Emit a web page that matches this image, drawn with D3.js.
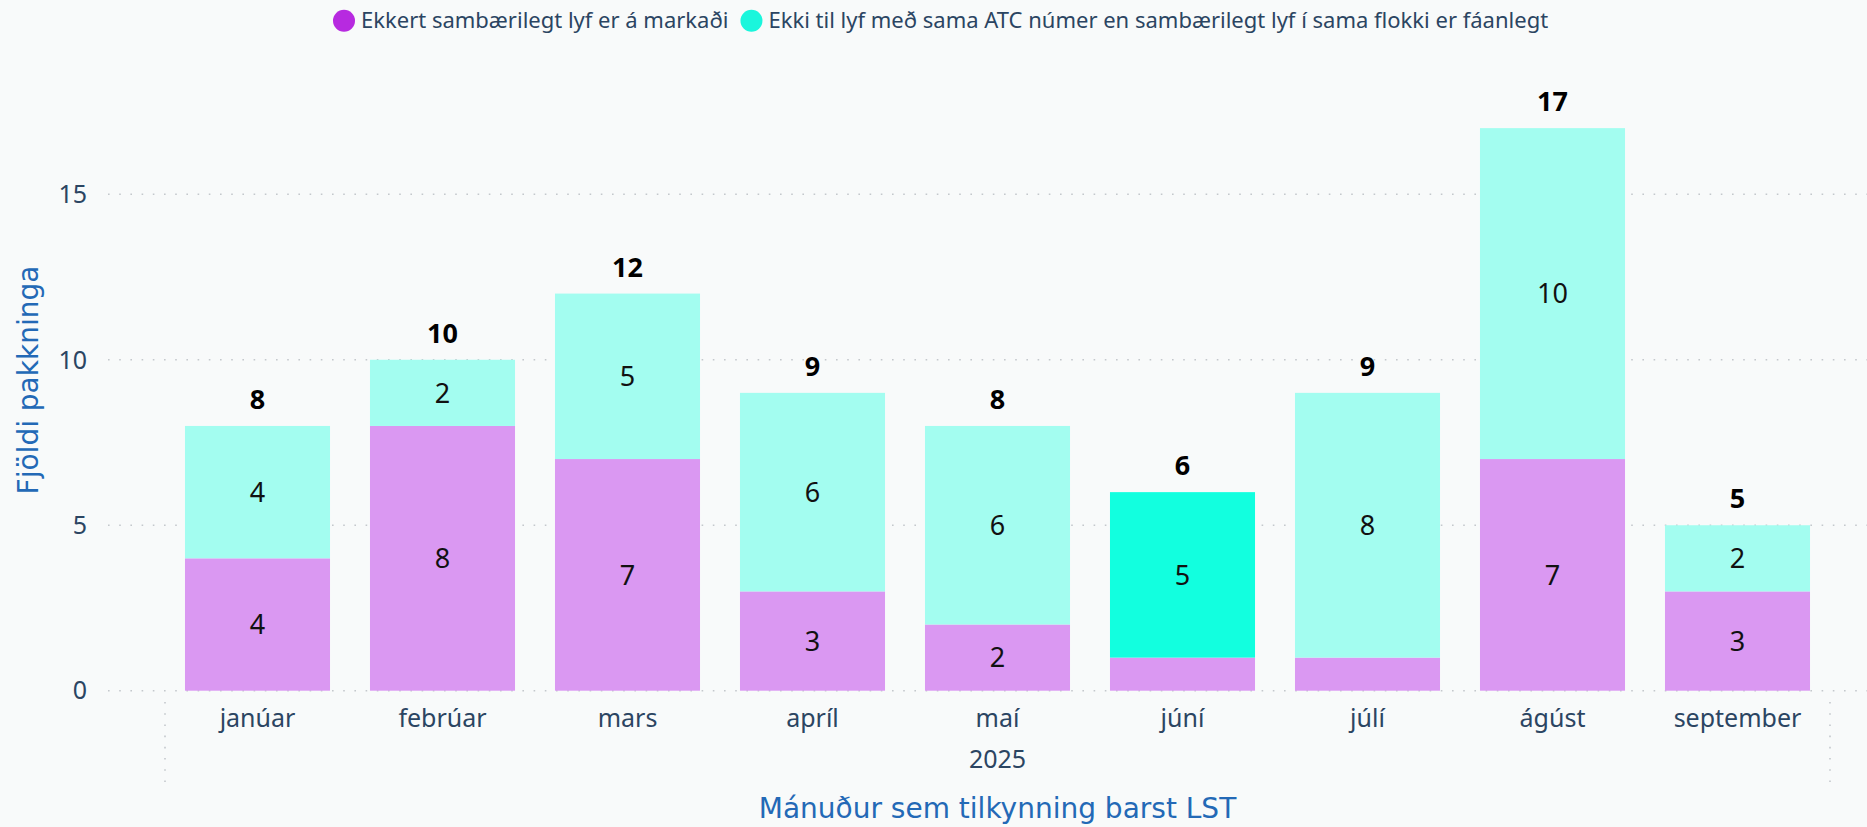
<!DOCTYPE html>
<html>
<head>
<meta charset="utf-8">
<script src="https://cdn.jsdelivr.net/npm/d3@7"></script>
<style>
  html, body { margin: 0; padding: 0; background: #f8fafa; }
  svg { display: block; }
  .tickTxt { font-family: "Noto Sans", sans-serif; font-size: 25px; fill: #2b4562; }
  .axisTitle { font-family: "DejaVu Sans", sans-serif; font-size: 28px; fill: #2369b6; }
  .legendTxt { font-family: "Noto Sans", sans-serif; font-size: 22px; fill: #2b4562; }
  .totalTxt { font-family: "Noto Sans", sans-serif; font-size: 27px; font-weight: bold; fill: #000; }
  .innerTxt { font-family: "Noto Sans", sans-serif; font-size: 27px; fill: #111; }
</style>
</head>
<body>
<div id="chart"></div>
<script>
var months = ["janúar", "febrúar", "mars", "apríl", "maí", "júní", "júlí", "ágúst", "september"];
var ekkertSambaerilegt = [4, 8, 7, 3, 2, 1, 1, 7, 3];
var ekkiTilAtc = [4, 2, 5, 6, 6, 5, 8, 10, 2];
var seriesNames = ["Ekkert sambærilegt lyf er á markaði", "Ekki til lyf með sama ATC númer en sambærilegt lyf í sama flokki er fáanlegt"];
var yTicks = [0, 5, 10, 15];
var yearLabel = "2025";
var highlightMonth = "júní";

(function () {
  'use strict'
  drawStackChart("chart");
})()

function drawStackChart(divIdStr){
  var width = 1867, height = 827;
  var legendColors = ["#b72ae0", "#1af6dc"];
  var fadeColors = ["#da98f2", "#a3fdf0"];
  var hiColors = ["#da98f2", "#12ffdf"];

  var rows = months.map(function(m, i){
    return { month: m, a: ekkertSambaerilegt[i], b: ekkiTilAtc[i] };
  });
  var stack = d3.stack().keys(["a", "b"])(rows);

  var x = d3.scaleBand().domain(months).range([165, 1830]).paddingInner(0.216).paddingOuter(0.108);
  var y = d3.scaleLinear().domain([0, 15]).range([690.7, 194.3]);

  var svg = d3.select("#" + divIdStr).append("svg")
    .attr("width", width)
    .attr("height", height);

  // gridlines
  svg.append("g").selectAll("line")
    .data(yTicks)
    .enter().append("line")
    .attr("x1", 108).attr("x2", width)
    .attr("y1", function(d){ return y(d); })
    .attr("y2", function(d){ return y(d); })
    .attr("stroke", "#c4c8cc")
    .attr("stroke-width", 1.6)
    .attr("stroke-dasharray", "1.6,9.6");

  // y tick labels
  svg.append("g").selectAll("text")
    .data(yTicks)
    .enter().append("text")
    .attr("class", "tickTxt")
    .attr("x", 87)
    .attr("y", function(d){ return y(d); })
    .attr("dy", "0.35em")
    .attr("text-anchor", "end")
    .text(function(d){ return d; });

  // bars
  stack.forEach(function(layer, si){
    svg.append("g").selectAll("rect")
      .data(layer)
      .enter().append("rect")
      .attr("x", function(d){ return x(d.data.month); })
      .attr("width", x.bandwidth())
      .attr("y", function(d){ return y(d[1]); })
      .attr("height", function(d){ return y(d[0]) - y(d[1]); })
      .attr("fill", function(d){ return d.data.month == highlightMonth ? hiColors[si] : fadeColors[si]; });

    svg.append("g").selectAll("text")
      .data(layer.filter(function(d){ return (d[1] - d[0]) > 1; }))
      .enter().append("text")
      .attr("class", "innerTxt")
      .attr("x", function(d){ return x(d.data.month) + x.bandwidth() / 2; })
      .attr("y", function(d){ return (y(d[0]) + y(d[1])) / 2; })
      .attr("dy", "0.36em")
      .attr("text-anchor", "middle")
      .text(function(d){ return d[1] - d[0]; });
  });

  // totals
  svg.append("g").selectAll("text")
    .data(rows)
    .enter().append("text")
    .attr("class", "totalTxt")
    .attr("x", function(d){ return x(d.month) + x.bandwidth() / 2; })
    .attr("y", function(d){ return y(d.a + d.b) - 17; })
    .attr("text-anchor", "middle")
    .text(function(d){ return d.a + d.b; });

  // x axis
  var xAxis = svg.append("g")
    .attr("class", "xAxisG")
    .attr("transform", "translate(0,700)")
    .call(d3.axisBottom(x).tickSize(0).tickPadding(0));
  xAxis.select(".domain").remove();
  xAxis.selectAll("text")
    .attr("class", "tickTxt")
    .attr("font-family", null).attr("font-size", null).attr("fill", null)
    .attr("y", 27).attr("dy", null);

  svg.append("text")
    .attr("class", "tickTxt")
    .attr("x", (x.range()[0] + x.range()[1]) / 2)
    .attr("y", 768)
    .attr("text-anchor", "middle")
    .text(yearLabel);

  // year group separators
  svg.append("g").selectAll("line")
    .data(x.range())
    .enter().append("line")
    .attr("x1", function(d){ return d; }).attr("x2", function(d){ return d; })
    .attr("y1", 702).attr("y2", 784)
    .attr("stroke", "#c4c8cc")
    .attr("stroke-width", 1.6)
    .attr("stroke-dasharray", "1.6,9.6");

  // axis titles
  svg.append("text")
    .attr("class", "axisTitle")
    .attr("x", (x.range()[0] + x.range()[1]) / 2)
    .attr("y", 818)
    .attr("text-anchor", "middle")
    .text("Mánuður sem tilkynning barst LST");

  svg.append("text")
    .attr("class", "axisTitle")
    .attr("transform", "translate(38,380) rotate(-90)")
    .attr("text-anchor", "middle")
    .text("Fjöldi pakkninga");

  // legend
  var legend = svg.append("g").attr("class", "legendG");
  var lx = 333;
  seriesNames.forEach(function(nm, i){
    legend.append("circle")
      .attr("cx", lx + 11).attr("cy", 20.7).attr("r", 11)
      .attr("fill", legendColors[i]);
    var t = legend.append("text")
      .attr("class", "legendTxt")
      .attr("x", lx + 28).attr("y", 28)
      .text(nm);
    lx = lx + 28 + t.node().getComputedTextLength() + 12;
  });
}
</script>
</body>
</html>
